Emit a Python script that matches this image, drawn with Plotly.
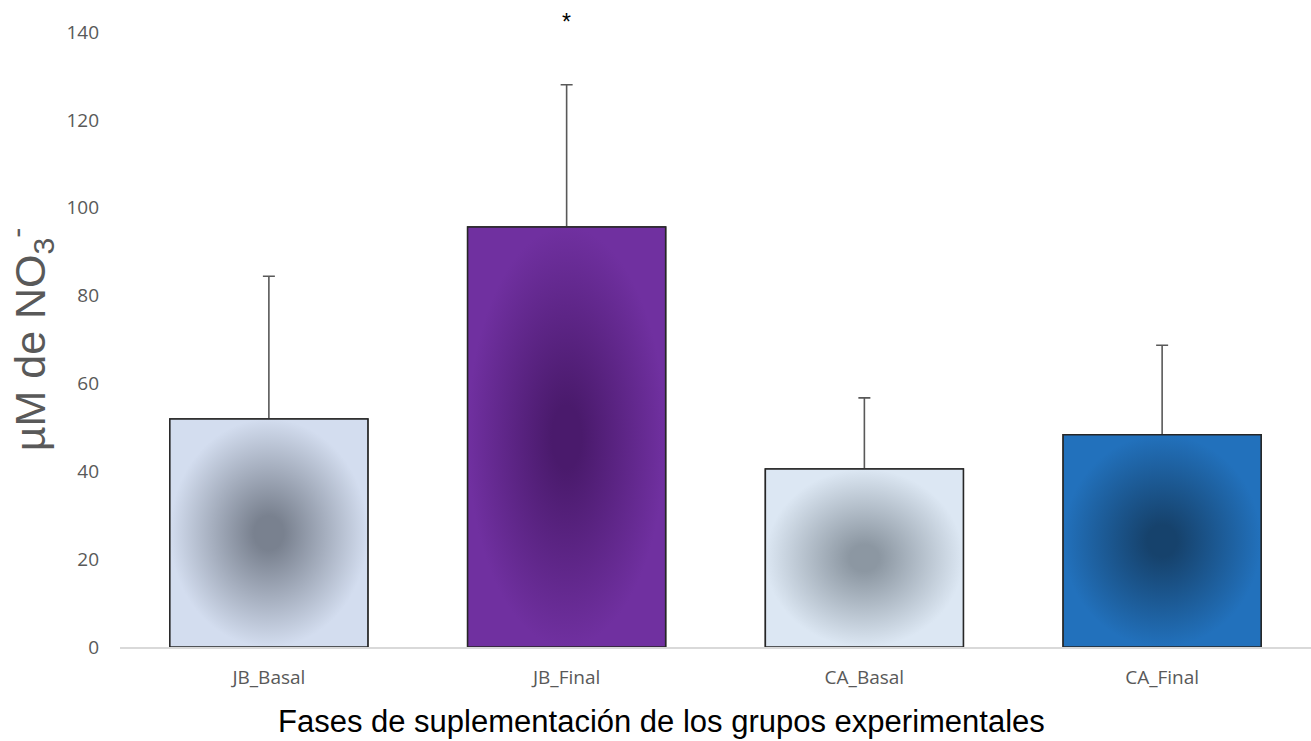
import plotly.graph_objects as go

categories = ["JB_Basal", "JB_Final", "CA_Basal", "CA_Final"]
means = [51.9, 95.6, 40.5, 48.3]
errors = [32.5, 32.4, 16.2, 20.4]
edge_colors = ["#d3ddef", "#7030a0", "#dce7f3", "#2271bc"]
center_colors = ["#79818f", "#4a1a6c", "#8c97a2", "#16426c"]
y_ticks = [0, 20, 40, 60, 80, 100, 120, 140]
signif_labels = ["", "*", "", ""]

bar_width = 0.665
idx = list(range(len(categories)))

fig = go.Figure()

fig.add_trace(go.Bar(
    x=idx, y=means, width=bar_width,
    marker=dict(color=edge_colors, line=dict(color="#262626", width=1.5)),
    error_y=dict(type="data", symmetric=False, array=errors,
                 arrayminus=[0] * len(means), color="#595959",
                 thickness=1.6, width=6),
    showlegend=False, hoverinfo="skip",
))

for i, m in enumerate(means):
    xl, xr = idx[i] - bar_width / 2, idx[i] + bar_width / 2
    fig.add_trace(go.Scatter(
        x=[xl, xr, xr, xl, xl], y=[0, 0, m, m, 0],
        mode="lines", fill="toself",
        fillgradient=dict(type="radial",
                          colorscale=[[0, center_colors[i]], [0.15, center_colors[i]],
                                      [1, edge_colors[i]]]),
        line=dict(color="#262626", width=1.5),
        showlegend=False, hoverinfo="skip",
    ))

for i, lab in enumerate(signif_labels):
    if lab:
        fig.add_annotation(x=idx[i], y=means[i] + errors[i], text=lab,
                           yshift=63, showarrow=False, yref="y",
                           font=dict(size=23, color="#000000",
                                     family="Liberation Sans"))

fig.add_annotation(
    text="Fases de suplementación de los grupos experimentales",
    xref="paper", yref="paper", x=0.455, y=0, yshift=-74,
    xanchor="center", yanchor="middle", showarrow=False,
    font=dict(size=31, color="#000000", family="Liberation Sans"),
)

fig.update_layout(
    width=1311, height=741,
    margin=dict(l=120, r=0, t=32, b=94),
    plot_bgcolor="white", paper_bgcolor="white",
    font=dict(family="Open Sans", color="#595959"),
    xaxis=dict(
        range=[-0.5, 3.5], tickvals=idx, ticktext=categories,
        showgrid=False, zeroline=False, showline=True,
        linecolor="#d9d9d9", linewidth=1.5, ticks="",
        tickfont=dict(size=19, color="#595959", family="Open Sans"),
        ticklabelstandoff=12,
    ),
    yaxis=dict(
        range=[0, 140], tickvals=y_ticks, showgrid=False, zeroline=False,
        showline=False, ticks="",
        tickfont=dict(size=19, color="#595959", family="Open Sans"),
        ticklabelstandoff=20,
        title=dict(text="µM de NO<sub>3</sub><sup>-</sup>",
                   font=dict(size=43, color="#595959", family="Liberation Sans"),
                   standoff=14),
    ),
)

fig.write_html("out.html")
